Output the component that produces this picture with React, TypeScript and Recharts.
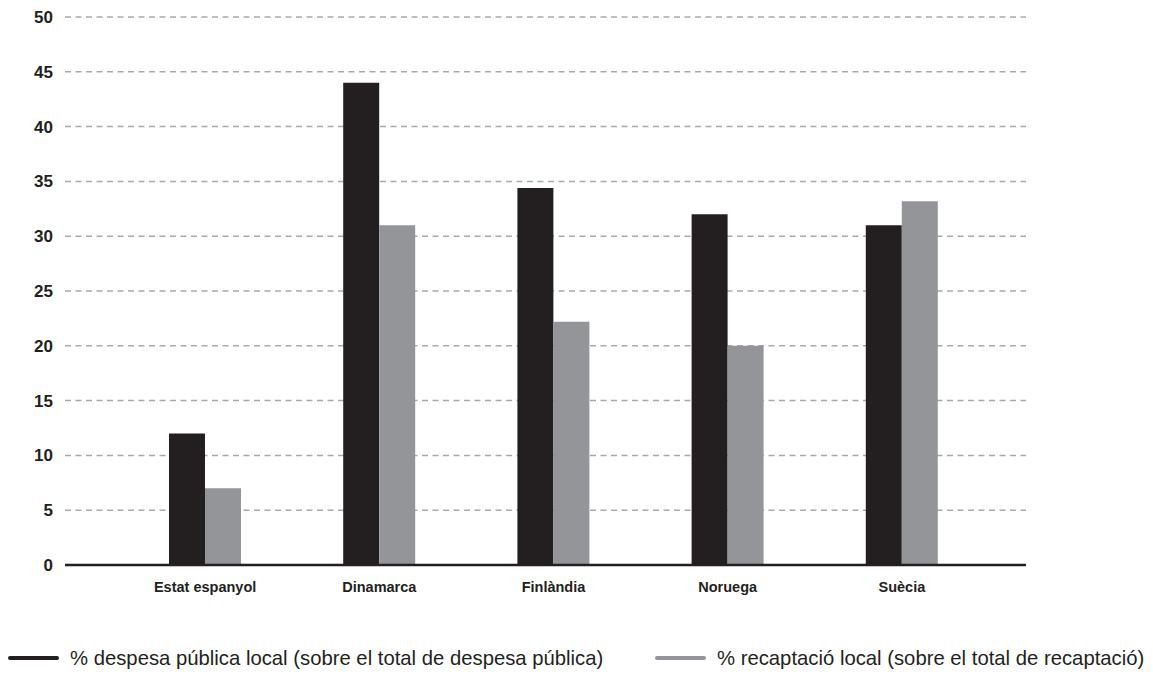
import { BarChart, Bar, XAxis, YAxis, CartesianGrid } from 'recharts'

const countries = ['Estat espanyol', 'Dinamarca', 'Finlàndia', 'Noruega', 'Suècia']
const despesaLocal = [12, 44, 34.4, 32, 31]
const recaptacioLocal = [7, 31, 22.2, 20, 33.2]
const yTicks = [0, 5, 10, 15, 20, 25, 30, 35, 40, 45, 50]

const series = [
  { key: 'despesa', label: '% despesa pública local (sobre el total de despesa pública)', color: '#231f20', left: 8 },
  { key: 'recaptacio', label: '% recaptació local (sobre el total de recaptació)', color: '#939598', left: 655 },
]

const data = countries.map((c, i) => ({
  country: c,
  despesa: despesaLocal[i],
  recaptacio: recaptacioLocal[i],
}))

const font = '"Liberation Sans", Arial, Helvetica, sans-serif'

export default function App() {
  return (
    <div style={{ position: 'absolute', left: 0, top: 0, width: 1153, height: 678, background: '#fff', fontFamily: font }}>
      <BarChart
        width={1153}
        height={620}
        data={data}
        margin={{ top: 17, right: 127, left: 0, bottom: 15 }}
        barSize={36}
        barGap={0}
      >
        <CartesianGrid vertical={false} stroke="#a7a9ac" strokeWidth={1.5} strokeDasharray="6 4.5" />
        <XAxis
          dataKey="country"
          padding={{ left: 53, right: 37 }}
          axisLine={{ stroke: '#231f20', strokeWidth: 2.5 }}
          tickLine={false}
          tickMargin={11}
          height={40}
          interval={0}
          tick={{ fontSize: 14.5, fontWeight: 700, fill: '#231f20', fontFamily: font }}
        />
        <YAxis
          domain={[0, 50]}
          ticks={yTicks}
          width={65}
          axisLine={false}
          tickLine={false}
          tickMargin={6}
          tick={{ fontSize: 17, fontWeight: 700, fill: '#231f20', fontFamily: font }}
        />
        {series.map(s => (
          <Bar key={s.key} dataKey={s.key} name={s.label} fill={s.color} isAnimationActive={false} />
        ))}
      </BarChart>
      {series.map(s => (
        <div
          key={s.key}
          style={{ position: 'absolute', left: s.left, top: 646, height: 24, display: 'flex', alignItems: 'center', whiteSpace: 'nowrap' }}
        >
          <span style={{ width: 51, height: 4, borderRadius: 2, backgroundColor: s.color, marginRight: 11 }} />
          <span style={{ fontSize: 20.3, color: '#231f20' }}>{s.label}</span>
        </div>
      ))}
    </div>
  )
}
